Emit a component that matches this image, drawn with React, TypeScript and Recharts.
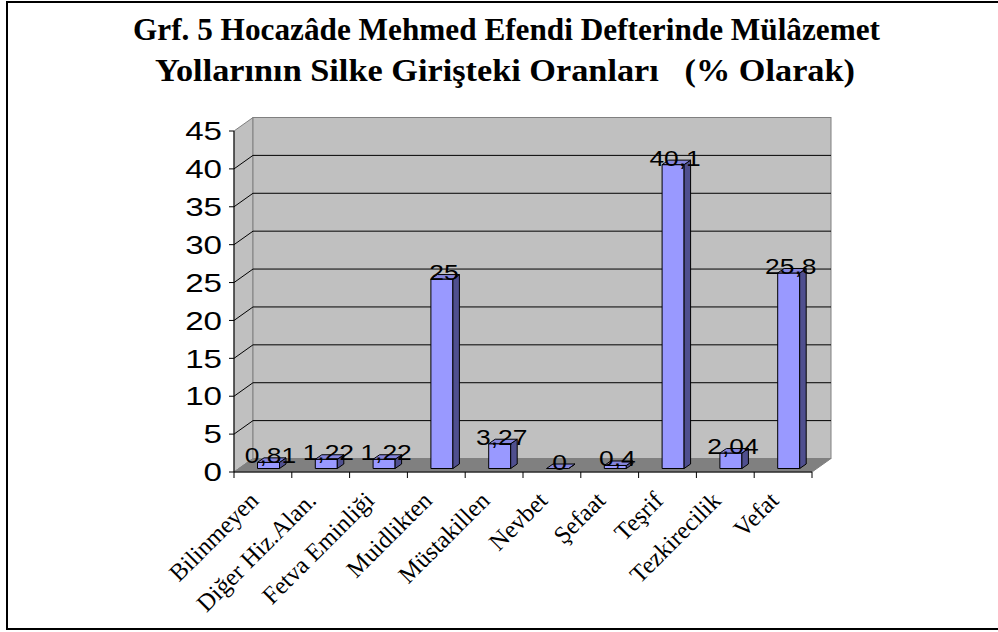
import React from 'react';
import { BarChart, Bar, XAxis, YAxis, ReferenceArea, ReferenceLine, LabelList } from 'recharts';

const categories = ['Bilinmeyen', 'Diğer Hiz.Alan.', 'Fetva Eminliği', 'Muidlikten', 'Müstakillen', 'Nevbet', 'Şefaat', 'Teşrif', 'Tezkirecilik', 'Vefat'];
const values = [0.81, 1.22, 1.22, 25, 3.27, 0, 0.4, 40.1, 2.04, 25.8];
const yTicks = [0, 5, 10, 15, 20, 25, 30, 35, 40, 45];
const gridTicks = [5, 10, 15, 20, 25, 30, 35, 40];
const titleLines = ['Grf. 5 Hocazâde Mehmed Efendi Defterinde Mülâzemet', 'Yollarının Silke Girişteki Oranları   (% Olarak)'];

const data = categories.map((name, i) => ({ name, value: values[i] }));

const DX = 19;
const DY = -13.5;
const FX = 5.5;
const FY = -3.5;
const BX = 6.5;
const BY = -4.5;

const SANS = "'Liberation Sans', Arial, sans-serif";
const SERIF = "'Liberation Serif', 'Times New Roman', serif";

const Walls = (p: any) => {
  const { x, y, width: w, height: h } = p;
  const b = y + h;
  const r = x + w;
  const n = categories.length;
  const ticks = [];
  for (let i = 0; i <= n; i++) {
    const tx = x + (i * w) / n;
    ticks.push(<line key={i} x1={tx} y1={b} x2={tx} y2={b + 6} stroke="#000" strokeWidth={1} />);
  }
  return (
    <g>
      <polygon points={`${x},${y} ${x + DX},${y + DY} ${x + DX},${b + DY} ${x},${b}`} fill="#C0C0C0" stroke="#808080" strokeWidth={1} />
      <rect x={x + DX} y={y + DY} width={w} height={h} fill="#C0C0C0" stroke="#808080" strokeWidth={1} />
      <polygon points={`${x},${b} ${r},${b} ${r + DX},${b + DY} ${x + DX},${b + DY}`} fill="#808080" stroke="#808080" strokeWidth={1} />
      {ticks}
    </g>
  );
};

const GridLine = (p: any) => {
  const { x1, y1, x2, y2 } = p;
  return (
    <g stroke="#000" strokeWidth={1}>
      <line x1={x1} y1={y1} x2={x1 + DX} y2={y1 + DY} />
      <line x1={x1 + DX} y1={y1 + DY} x2={x2 + DX} y2={y2 + DY} />
    </g>
  );
};

const Bar3D = (p: any) => {
  const { x, y, width, height } = p;
  const fx = x + FX;
  const fy = y + FY;
  const h = Math.max(height || 0, 0);
  return (
    <g stroke="#000" strokeWidth={1} strokeLinejoin="round">
      <rect x={fx} y={fy} width={width} height={h} fill="#9999FF" />
      <polygon points={`${fx + width},${fy} ${fx + width + BX},${fy + BY} ${fx + width + BX},${fy + h + BY} ${fx + width},${fy + h}`} fill="#4F4F8F" />
      <polygon points={`${fx},${fy} ${fx + BX},${fy + BY} ${fx + width + BX},${fy + BY} ${fx + width},${fy}`} fill="#8585DD" />
    </g>
  );
};

const BarLabel = (p: any) => {
  const { x, y, width, value } = p;
  const cx = Number(x) + Number(width) / 2 + FX + 2;
  const by = Number(y) + FY + 1;
  return (
    <text transform={`translate(${cx},${by}) scale(1.2,1)`} textAnchor="middle" fontFamily={SANS} fontSize={22} fill="#000">
      {String(value).replace('.', ',')}
    </text>
  );
};

const YTick = (p: any) => {
  const { x, y, payload } = p;
  return (
    <text transform={`translate(${x - 5},${y}) scale(1.3,1)`} textAnchor="end" dy="0.36em" fontFamily={SANS} fontSize={25.5} fill="#000">
      {payload.value}
    </text>
  );
};

const XTick = (p: any) => {
  const { x, y, payload } = p;
  return (
    <text transform={`translate(${x - 3},${y + 22}) rotate(-45)`} textAnchor="end" fontFamily={SERIF} fontSize={24.5} fill="#000">
      {payload.value}
    </text>
  );
};

export default function App() {
  return (
    <div style={{ position: 'absolute', left: 0, top: 0, width: 998, height: 632, background: '#fff', overflow: 'hidden' }}>
      <svg width={998} height={632} style={{ position: 'absolute', left: 0, top: 0 }}>
        <rect x={7} y={2} width={1000} height={627} fill="#fff" stroke="#000" strokeWidth={2} />
        <text x={133} y={40} textLength={747} lengthAdjust="spacingAndGlyphs" fontFamily={SERIF} fontWeight="bold" fontSize={31} fill="#000" style={{ whiteSpace: 'pre' }}>
          {titleLines[0]}
        </text>
        <text x={155} y={81} textLength={700} lengthAdjust="spacingAndGlyphs" fontFamily={SERIF} fontWeight="bold" fontSize={31} fill="#000" style={{ whiteSpace: 'pre' }}>
          {titleLines[1]}
        </text>
      </svg>
      <div style={{ position: 'absolute', left: 0, top: 0 }}>
        <BarChart width={998} height={632} data={data} margin={{ top: 131, right: 186, bottom: 40, left: 174 }}>
          <ReferenceArea y1={0} y2={45} shape={<Walls />} zIndex={-20} ifOverflow="visible" />
          {gridTicks.map((t) => (
            <ReferenceLine key={t} y={t} shape={<GridLine />} zIndex={-10} />
          ))}
          <XAxis dataKey="name" interval={0} tickLine={false} axisLine={{ stroke: '#000' }} tick={<XTick />} height={120} />
          <YAxis domain={[0, 45]} ticks={yTicks} interval={0} tick={<YTick />} tickSize={5} axisLine={{ stroke: '#000' }} tickLine={{ stroke: '#000' }} width={60} />
          <Bar dataKey="value" barSize={22} shape={<Bar3D />} isAnimationActive={false}>
            <LabelList dataKey="value" content={<BarLabel />} />
          </Bar>
        </BarChart>
      </div>
    </div>
  );
}
